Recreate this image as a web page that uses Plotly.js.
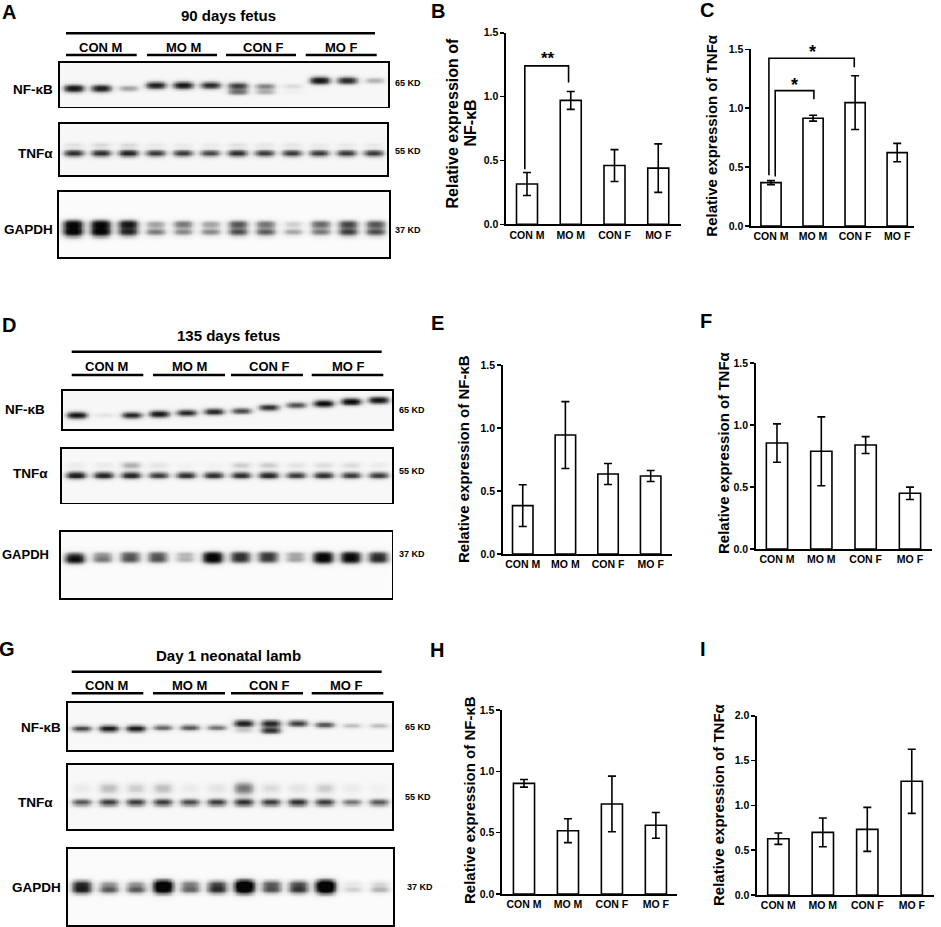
<!DOCTYPE html>
<html>
<head>
<meta charset="utf-8">
<script src="https://cdn.plot.ly/plotly-3.0.1.min.js"></script>
<style>html,body{margin:0;padding:0;background:#fff;}#chart{width:941px;height:927px;}</style>
</head>
<body>
<div id="chart"></div>
<script>
// ---------------- DATA ----------------
const categories = ['CON M', 'MO M', 'CON F', 'MO F'];

// Bar values (relative expression) and SEM
const nfkb90 = [0.315, 0.97, 0.46, 0.44];
const nfkb90Err = [0.09, 0.07, 0.125, 0.19];
const tnf90 = [0.368, 0.915, 1.047, 0.623];
const tnf90Err = [0.017, 0.025, 0.228, 0.078];
const nfkb135 = [0.384, 0.944, 0.635, 0.619];
const nfkb135Err = [0.166, 0.265, 0.083, 0.044];
const tnf135 = [0.856, 0.789, 0.840, 0.450];
const tnf135Err = [0.155, 0.278, 0.068, 0.05];
const nfkbDay1 = [0.902, 0.516, 0.734, 0.560];
const nfkbDay1Err = [0.031, 0.097, 0.227, 0.105];
const tnfDay1 = [0.628, 0.699, 0.732, 1.268];
const tnfDay1Err = [0.063, 0.16, 0.245, 0.357];

const ticks15 = [0, 0.5, 1.0, 1.5];
const ticks15Text = ['0.0', '0.5', '1.0', '1.5'];
const ticks20 = [0, 0.5, 1.0, 1.5, 2.0];
const ticks20Text = ['0.0', '0.5', '1.0', '1.5', '2.0'];

// Western blot band intensities per lane (12 lanes: CON M x3, MO M x3, CON F x3, MO F x3)
const band90NFkB = [0.9, 0.85, 0.35, 0.85, 0.9, 0.8, 0.7, 0.45, 0.15, 0.9, 0.8, 0.3];
const band90NFkB2 = [0, 0, 0, 0, 0, 0, 0.5, 0.3, 0.05, 0, 0, 0];
const band90TNF = [0.75, 0.75, 0.8, 0.7, 0.7, 0.65, 0.75, 0.7, 0.7, 0.7, 0.7, 0.7];
const band90TNF2 = [0.12, 0.15, 0.15, 0.08, 0.08, 0.08, 0.12, 0.1, 0.1, 0.08, 0.08, 0.08];
const band90GAPDH = [1.0, 1.0, 0.8, 0.5, 0.45, 0.45, 0.65, 0.6, 0.35, 0.5, 0.7, 0.65];
const band90GAPDH2 = [0.9, 0.9, 0.85, 0.35, 0.5, 0.35, 0.6, 0.5, 0.2, 0.55, 0.65, 0.6];

const band135NFkB = [0.9, 0.12, 0.8, 0.9, 0.8, 0.8, 0.65, 0.75, 0.65, 0.95, 0.95, 0.9];
const band135TNF = [0.85, 0.8, 0.8, 0.7, 0.75, 0.75, 0.75, 0.8, 0.7, 0.75, 0.7, 0.7];
const band135TNF2 = [0.08, 0.08, 0.3, 0.12, 0.05, 0.05, 0.2, 0.2, 0.12, 0.15, 0.15, 0.08];
const band135GAPDH = [0.95, 0.5, 0.6, 0.6, 0.3, 0.95, 0.7, 0.65, 0.35, 0.95, 0.9, 0.75];
const band135GAPDH2 = [0.3, 0.3, 0.45, 0.45, 0.25, 0.6, 0.55, 0.55, 0.3, 0.6, 0.6, 0.5];

const bandD1NFkB = [0.65, 0.85, 0.85, 0.55, 0.6, 0.5, 0.85, 0.8, 0.7, 0.6, 0.25, 0.25];
const bandD1NFkB2 = [0, 0, 0, 0, 0, 0, 0.2, 0.75, 0, 0, 0, 0];
const bandD1TNF = [0.6, 0.7, 0.7, 0.7, 0.65, 0.7, 0.75, 0.7, 0.75, 0.7, 0.5, 0.6];
const bandD1TNF2 = [0.08, 0.25, 0.2, 0.25, 0.08, 0.12, 0.5, 0.15, 0.12, 0.2, 0.08, 0.05];
const bandD1GAPDH = [0.8, 0.6, 0.6, 0.95, 0.55, 0.75, 1.0, 0.6, 0.7, 1.0, 0.2, 0.3];
const bandD1GAPDH2 = [0.6, 0.3, 0.3, 0.9, 0.4, 0.5, 0.95, 0.5, 0.5, 0.95, 0.1, 0.15];

// ---------------- RENDERING ----------------
const W = 941, H = 927;
const FONT = 'Liberation Sans, Arial, Helvetica, sans-serif';
const px = x => x / W;
const py = y => 1 - y / H;

const traces = [];
const layout = {
  width: W, height: H,
  margin: {l: 0, r: 0, t: 0, b: 0},
  paper_bgcolor: '#fff', plot_bgcolor: 'rgba(0,0,0,0)',
  showlegend: false, hovermode: false,
  annotations: [], shapes: []
};

function txt(text, x, y, size, opts) {
  opts = opts || {};
  layout.annotations.push(Object.assign({
    text: text, x: px(x), y: py(y), xref: 'paper', yref: 'paper',
    showarrow: false, xanchor: 'center', yanchor: 'middle',
    font: {family: FONT, size: size, color: '#000', weight: 'bold'}
  }, opts));
}
function hline(x0, x1, y, w) {
  layout.shapes.push({type: 'line', xref: 'paper', yref: 'paper',
    x0: px(x0), x1: px(x1), y0: py(y), y1: py(y), line: {color: '#000', width: w}});
}

let axisIdx = 0;
function nextAxes() {
  axisIdx += 1;
  const n = axisIdx === 1 ? '' : String(axisIdx);
  return {x: 'x' + n, y: 'y' + n, xl: 'xaxis' + n, yl: 'yaxis' + n};
}

// Bar chart panel
function barPanel(vals, errs, g, brackets, stars) {
  const a = nextAxes();
  const tv = g.top > 1.6 ? ticks20 : ticks15;
  const tt = g.top > 1.6 ? ticks20Text : ticks15Text;
  layout[a.xl] = {domain: [px(g.x0), px(g.x1)], range: g.xr, anchor: a.y,
    showline: true, linecolor: '#000', linewidth: 1.6, ticks: '', tickvals: [0, 1, 2, 3],
    ticktext: categories, tickfont: {family: FONT, size: 10.5, color: '#000', weight: 'bold'},
    showgrid: false, zeroline: false, fixedrange: true};
  layout[a.yl] = {domain: [py(g.y0), py(g.yt)], range: [0, g.top], anchor: a.x,
    showline: true, linecolor: '#000', linewidth: 1.6, ticks: 'outside', ticklen: 4, tickwidth: 1.6,
    tickcolor: '#000', tickvals: tv, ticktext: tt,
    tickfont: {family: FONT, size: 10.5, color: '#000', weight: 'bold'},
    showgrid: false, zeroline: false, fixedrange: true};
  traces.push({type: 'bar', x: [0, 1, 2, 3], y: vals, width: 0.48, xaxis: a.x, yaxis: a.y,
    marker: {color: '#fff', line: {color: '#000', width: 1.6}},
    error_y: {type: 'data', array: errs, visible: true, color: '#000', thickness: 1.6, width: 4},
    hoverinfo: 'skip'});
  (brackets || []).forEach(b => {
    traces.push({type: 'scatter', mode: 'lines', x: b.x, y: b.y, xaxis: a.x, yaxis: a.y,
      line: {color: '#000', width: 1.6}, hoverinfo: 'skip', cliponaxis: false});
  });
  (stars || []).forEach(s => {
    layout.annotations.push({text: s.t, x: s.x, y: s.y, xref: a.x, yref: a.y, showarrow: false,
      xanchor: 'center', yanchor: 'middle', font: {family: FONT, size: s.size, color: '#000', weight: 'bold'}});
  });
}

// Blot panel drawn as a heatmap
function blotPanel(box, main, pos, sigPx, second, pos2, sig2Px, bg) {
  const a = nextAxes();
  const hpx = box[3] - box[1];
  const nx = 241, ny = 61;
  const xs = [], ys = [], z = [];
  for (let i = 0; i < nx; i++) xs.push(i * 12 / (nx - 1));
  for (let j = 0; j < ny; j++) ys.push(j / (ny - 1));
  for (let j = 0; j < ny; j++) {
    const t = 1 - ys[j];
    const row = [];
    for (let i = 0; i < nx; i++) {
      const xv = xs[i];
      let v = bg;
      for (let l = 0; l < 12; l++) {
        const dx = xv - (l + 0.5);
        if (Math.abs(dx) > 0.9) continue;
        const lat = Math.exp(-Math.pow(Math.abs(dx) / 0.38, 3));
        const p = Array.isArray(pos) ? pos[l] : pos;
        const s1 = 1.3 * sigPx * (0.75 + 0.45 * main[l]) / hpx;
        let b = main[l] * Math.exp(-Math.pow((t - p) / s1, 2));
        if (second) {
          const p2 = Array.isArray(pos2) ? pos2[l] : pos2;
          const s2 = 1.3 * sig2Px * (0.75 + 0.45 * second[l]) / hpx;
          b += second[l] * Math.exp(-Math.pow((t - p2) / s2, 2));
        }
        v += lat * b;
      }
      row.push(Math.min(1, v));
    }
    z.push(row);
  }
  layout[a.xl] = {domain: [px(box[0]), px(box[2])], range: [0, 12], anchor: a.y,
    showline: true, mirror: true, linecolor: '#000', linewidth: 1.6, ticks: '',
    showticklabels: false, showgrid: false, zeroline: false, fixedrange: true};
  layout[a.yl] = {domain: [py(box[3]), py(box[1])], range: [0, 1], anchor: a.x,
    showline: true, mirror: true, linecolor: '#000', linewidth: 1.6, ticks: '',
    showticklabels: false, showgrid: false, zeroline: false, fixedrange: true};
  traces.push({type: 'heatmap', x: xs, y: ys, z: z, xaxis: a.x, yaxis: a.y, zmin: 0, zmax: 1,
    zsmooth: 'best', showscale: false, hoverinfo: 'skip',
    colorscale: [[0, '#ffffff'], [0.15, '#e6e6e6'], [0.45, '#8f8f8f'], [0.75, '#363636'], [1, '#050505']]});
}

function blotHeader(title, titleY, lineY, labY, ulY, labX, ulX, longX) {
  txt(title, 228, titleY, 15);
  hline(longX[0], longX[1], lineY, 2.6);
  categories.forEach((c, k) => {
    txt(c, labX[k], labY, 13);
    hline(ulX[k][0], ulX[k][1], ulY, 2.6);
  });
}

// ----- Panel letters -----
[['A', 9, 12], ['B', 438, 11], ['C', 707, 10], ['D', 9, 325], ['E', 437, 323], ['F', 706, 321],
 ['G', 7, 649], ['H', 437, 650], ['I', 703, 649]].forEach(l => txt(l[0], l[1], l[2], 20));

// ----- Panel A: 90 days fetus -----
blotHeader('90 days fetus', 15, 33.3, 47.3, 55, [100, 183, 263, 341.7],
  [[66, 136.7], [147, 217], [226, 296], [305.7, 376.7]], [66, 375]);
blotPanel([60, 62.7, 388, 106.7], band90NFkB, [0.58, 0.58, 0.58, 0.51, 0.51, 0.51, 0.52, 0.53, 0.53, 0.40, 0.40, 0.40],
  2.6, band90NFkB2, 0.66, 2.4, 0.045);
blotPanel([60, 124, 387, 175], band90TNF, 0.57, 2.7, band90TNF2, 0.40, 2.6, 0.045);
blotPanel([59, 192, 389, 257], band90GAPDH, 0.61, 3.2, band90GAPDH2, 0.49, 3.0, 0.025);
txt('NF-κB', 55, 89, 13.5, {xanchor: 'right'});
txt('TNFα', 55, 154, 13.5, {xanchor: 'right'});
txt('GAPDH', 55, 229, 13.5, {xanchor: 'right'});
txt('65 KD', 393, 83, 9, {xanchor: 'left'});
txt('55 KD', 393, 151, 9, {xanchor: 'left'});
txt('37 KD', 393, 230, 9, {xanchor: 'left'});

// ----- Panel D: 135 days fetus -----
blotHeader('135 days fetus', 335, 351.7, 366, 375, [106.7, 189, 269, 348],
  [[71.7, 143.3], [153, 225], [231, 303], [311.7, 383.3]], [71.7, 381.7]);
blotPanel([63, 390.7, 392, 429.3], band135NFkB, [0.63, 0.63, 0.63, 0.6, 0.57, 0.54, 0.52, 0.43, 0.37, 0.33, 0.28, 0.24],
  2.4, null, 0, 0, 0.045);
blotPanel([62, 449, 392, 502.5], band135TNF, 0.49, 2.6, band135TNF2, 0.30, 3.0, 0.04);
blotPanel([60.7, 531.7, 391.7, 598], band135GAPDH, 0.41, 3.0, band135GAPDH2, 0.33, 2.6, 0.025);
txt('NF-κB', 47, 410, 13.5, {xanchor: 'right'});
txt('TNFα', 50, 473, 13.5, {xanchor: 'right'});
txt('GAPDH', 51, 554, 13, {xanchor: 'right'});
txt('65 KD', 397, 410, 9, {xanchor: 'left'});
txt('55 KD', 397, 471, 9, {xanchor: 'left'});
txt('37 KD', 397, 554, 9, {xanchor: 'left'});

// ----- Panel G: Day 1 neonatal lamb -----
blotHeader('Day 1 neonatal lamb', 655, 671.7, 685, 693.3, [106.7, 189, 269, 346.7],
  [[71.7, 143.3], [153, 225], [231, 303], [311.7, 383.3]], [71.7, 381.7]);
blotPanel([68, 703, 392, 750], bandD1NFkB, [0.54, 0.54, 0.54, 0.52, 0.52, 0.52, 0.43, 0.43, 0.43, 0.46, 0.48, 0.48],
  2.5, bandD1NFkB2, 0.58, 2.4, 0.04);
blotPanel([68, 765, 392, 829], bandD1TNF, 0.58, 2.8, bandD1TNF2, 0.36, 5.0, 0.04);
blotPanel([68, 849, 393, 925], bandD1GAPDH, 0.53, 3.2, bandD1GAPDH2, 0.45, 3.0, 0.025);
txt('NF-κB', 63, 727, 13.5, {xanchor: 'right'});
txt('TNFα', 55, 802, 13.5, {xanchor: 'right'});
txt('GAPDH', 63, 887, 13.5, {xanchor: 'right'});
txt('65 KD', 403, 727, 9, {xanchor: 'left'});
txt('55 KD', 403, 797, 9, {xanchor: 'left'});
txt('37 KD', 405, 887, 9, {xanchor: 'left'});

// ----- Bar charts -----
barPanel(nfkb90, nfkb90Err, {x0: 506, x1: 681, y0: 224.3, yt: 32.7, top: 1.5, xr: [-0.48, 3.52]},
  [{x: [-0.05, -0.05, 0.95, 0.95], y: [0.43, 1.24, 1.24, 1.11]}],
  [{t: '**', x: 0.47, y: 1.295, size: 17}]);
barPanel(tnf90, tnf90Err, {x0: 751, x1: 914, y0: 226, yt: 49.3, top: 1.5, xr: [-0.476, 3.40]},
  [{x: [0.10, 0.10, 1.02, 1.02], y: [0.42, 1.149, 1.149, 1.076]},
   {x: [-0.05, -0.05, 1.98, 1.98], y: [0.43, 1.424, 1.424, 1.347]}],
  [{t: '*', x: 0.555, y: 1.194, size: 18}, {t: '*', x: 0.99, y: 1.478, size: 18}]);
barPanel(nfkb135, nfkb135Err, {x0: 502.7, x1: 672, y0: 554, yt: 365, top: 1.5, xr: [-0.47, 3.5]});
barPanel(tnf135, tnf135Err, {x0: 755.7, x1: 931.7, y0: 549, yt: 363.3, top: 1.5, xr: [-0.48, 3.49]});
barPanel(nfkbDay1, nfkbDay1Err, {x0: 502, x1: 677, y0: 894, yt: 710, top: 1.5, xr: [-0.5, 3.48]});
barPanel(tnfDay1, tnfDay1Err, {x0: 757, x1: 934, y0: 895, yt: 715.7, top: 2.0, xr: [-0.48, 3.5]});

// y-axis titles
txt('Relative expression of', 452, 123.5, 16, {textangle: -90});
txt('NF-κB', 470, 123.5, 16, {textangle: -90});
txt('Relative expression of TNFα', 712, 135.7, 15, {textangle: -90});
txt('Relative expression of NF-κB', 463, 459, 15, {textangle: -90});
txt('Relative expression of TNFα', 723, 453, 15, {textangle: -90});
txt('Relative expression of NF-κB', 469, 800, 15, {textangle: -90});
txt('Relative expression of TNFα', 718, 805, 15, {textangle: -90});

Plotly.newPlot('chart', traces, layout, {displayModeBar: false, staticPlot: true});
</script>
</body>
</html>
